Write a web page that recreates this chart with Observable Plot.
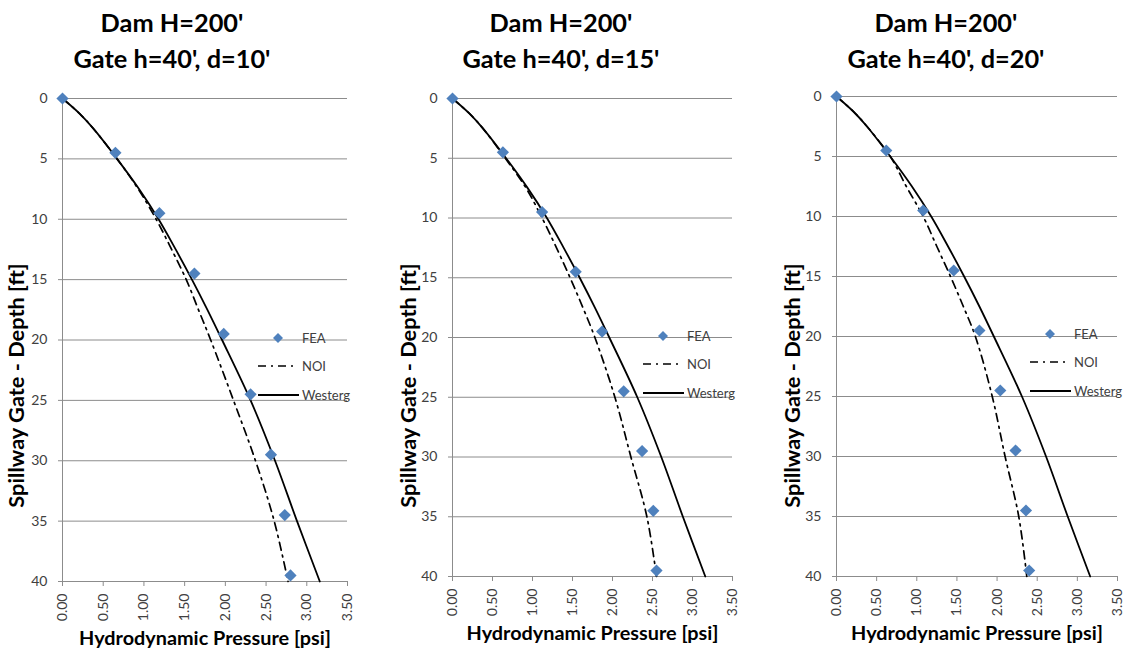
<!DOCTYPE html>
<html><head><meta charset="utf-8">
<script src="https://cdn.jsdelivr.net/npm/d3@7"></script>
<script src="https://cdn.jsdelivr.net/npm/@observablehq/plot@0.6"></script>
<style>
html,body{margin:0;padding:0;background:#fff;}
#root{position:relative;width:1125px;height:650px;overflow:hidden;font-family:Lato,sans-serif;}
.title{position:absolute;width:300px;text-align:center;font-weight:bold;font-size:24px;line-height:36px;color:#000;white-space:nowrap;}
.panel{position:absolute;top:80px;}
.legend{position:absolute;overflow:visible;}
svg g[aria-label="x-axis label"], svg g[aria-label="y-axis label"]{font-weight:bold;fill:#000;}
svg g[aria-label="x-axis tick"], svg g[aria-label="y-axis tick"]{stroke:#8c8c8c;}
svg g[aria-label="x-axis tick label"], svg g[aria-label="y-axis tick label"]{fill:#404040;}
</style></head><body><div id="root"></div>
<script>
// ---- data ----
const titleLine1 = "Dam H=200'";
const titleLine2 = ["Gate h=40', d=10'", "Gate h=40', d=15'", "Gate h=40', d=20'"];
const xLabel = "Hydrodynamic Pressure [psi]";
const yLabel = "Spillway Gate - Depth [ft]";
const seriesNames = ["FEA", "NOI", "Westerg"];
const xTicks = [0, 0.5, 1.0, 1.5, 2.0, 2.5, 3.0, 3.5];
const yTicks = [0, 5, 10, 15, 20, 25, 30, 35, 40];

const depthFEA = [0, 4.5, 9.5, 14.5, 19.5, 24.5, 29.5, 34.5, 39.5];
const feaD10 = [0, 0.65, 1.19, 1.62, 1.98, 2.31, 2.56, 2.73, 2.80];
const feaD15 = [0, 0.63, 1.12, 1.54, 1.87, 2.14, 2.37, 2.51, 2.55];
const feaD20 = [0, 0.62, 1.08, 1.46, 1.78, 2.04, 2.23, 2.36, 2.40];

const depthCurve = [0, 1.25, 2.5, 5, 7.5, 10, 12.5, 15, 17.5, 20, 25, 30, 35, 40];
const westerg = [0, 0.21, 0.38, 0.67, 0.94, 1.18, 1.39, 1.59, 1.78, 1.96, 2.31, 2.61, 2.88, 3.16];
const noiD10 = [0, 0.21, 0.38, 0.67, 0.93, 1.15, 1.34, 1.52, 1.67, 1.82, 2.10, 2.37, 2.60, 2.77];
const noiD15 = [0, 0.21, 0.38, 0.66, 0.92, 1.12, 1.30, 1.47, 1.63, 1.78, 2.03, 2.23, 2.43, 2.55];
const noiD20 = [0, 0.21, 0.38, 0.67, 0.87, 1.08, 1.25, 1.42, 1.58, 1.73, 1.94, 2.10, 2.27, 2.37];

// ---- layout ----
const panels = [
  {t2: titleLine2[0], fea: feaD10, noi: noiD10, left: 0,   width: 380, mL: 62, mR: 33, mT: 18, mB: 69, titleX: 172, yOff: 54, legX: 278,  legY: 338},
  {t2: titleLine2[1], fea: feaD15, noi: noiD15, left: 390, width: 380, mL: 62, mR: 38, mT: 18, mB: 74, titleX: 561, yOff: 52, legX: 663,  legY: 336},
  {t2: titleLine2[2], fea: feaD20, noi: noiD20, left: 775, width: 350, mL: 61, mR: 8,  mT: 16, mB: 74, titleX: 946, yOff: 52, legX: 1050, legY: 334}
];
const H = 570, TOP = 80;
const BLUE = "#4F81BD";
const NOI_DASH = "8,5,2,5";
const root = document.getElementById("root");

const ctx = document.createElement("canvas").getContext("2d");
function fitSize(text, weight, target) {
  ctx.font = `${weight} 100px Lato`;
  return 100 * target / ctx.measureText(text).width;
}
const titleSize = fitSize(titleLine2[0], "bold", 197);
const xLabelSize = fitSize(xLabel, "bold", 252);
const yLabelSize = fitSize(yLabel, "bold", 245);

panels.forEach(p => {
  const feaRows = depthFEA.map((d, i) => ({depth: d, p: p.fea[i]}));
  const westRows = depthCurve.map((d, i) => ({depth: d, p: westerg[i]}));
  const noiRows = depthCurve.map((d, i) => ({depth: d, p: p.noi[i]}));

  const svg = Plot.plot({
    width: p.width, height: H,
    marginLeft: p.mL, marginRight: p.mR, marginTop: p.mT, marginBottom: p.mB,
    style: {fontFamily: "Lato, sans-serif", fontSize: "14px", background: "transparent", overflow: "visible", color: "#404040"},
    x: {domain: [0, 3.5]},
    y: {domain: [0, 40], reverse: true},
    marks: [
      Plot.gridY(yTicks, {stroke: "#8c8c8c", strokeOpacity: 1}),
      Plot.ruleX([0], {stroke: "#8c8c8c"}),
      Plot.axisY(yTicks, {tickSize: 4, tickPadding: 11, fontSize: 14, label: yLabel, labelAnchor: "center", labelOffset: p.yOff, labelArrow: false}),
      Plot.axisX(xTicks, {tickSize: 5, tickPadding: 7, tickRotate: -90, fontSize: 14, tickFormat: d => d.toFixed(2), label: xLabel, labelAnchor: "center", labelOffset: 63, labelArrow: false}),
      Plot.line(noiRows, {x: "p", y: "depth", curve: "catmull-rom", stroke: "#000", strokeWidth: 1.7, strokeDasharray: NOI_DASH}),
      Plot.line(westRows, {x: "p", y: "depth", curve: "catmull-rom", stroke: "#000", strokeWidth: 1.8}),
      Plot.dot(feaRows, {x: "p", y: "depth", symbol: "diamond2", r: 5.5, fill: BLUE, stroke: "none"})
    ]
  });
  svg.classList.add("panel");
  svg.style.left = p.left + "px";
  svg.style.top = TOP + "px";
  svg.style.position = "absolute";
  root.appendChild(svg);

  // axis label fonts and y label placement (composed with Plot's own transform)
  const frameCenter = TOP + p.mT + (H - p.mT - p.mB) / 2;
  const yl = svg.querySelector('g[aria-label="y-axis label"]');
  if (yl) {
    yl.style.fontSize = yLabelSize + "px";
    const prev = yl.getAttribute("transform") || "";
    yl.setAttribute("transform", `translate(0,${385 - frameCenter}) ${prev}`);
  }
  const xl = svg.querySelector('g[aria-label="x-axis label"]');
  if (xl) xl.style.fontSize = xLabelSize + "px";

  // title
  const t = document.createElement("div");
  t.className = "title";
  t.style.left = (p.titleX - 150) + "px";
  t.style.top = "4px";
  t.style.fontSize = titleSize + "px";
  t.innerHTML = `${titleLine1}<br>${p.t2}`;
  root.appendChild(t);

  // legend
  const ns = "http://www.w3.org/2000/svg";
  const lg = document.createElementNS(ns, "svg");
  lg.setAttribute("class", "legend");
  lg.setAttribute("width", 100);
  lg.setAttribute("height", 80);
  lg.style.left = (p.legX - 20) + "px";
  lg.style.top = (p.legY - 10) + "px";
  lg.style.fontFamily = "Lato, sans-serif";
  lg.style.fontSize = "13px";
  lg.innerHTML = `
    <path d="M20,5 L25,10 L20,15 L15,10 Z" fill="${BLUE}"/>
    <text x="44" y="10" dy="0.35em" fill="#404040">${seriesNames[0]}</text>
    <line x1="0" x2="36" y1="38" y2="38" stroke="#000" stroke-width="1.7" stroke-dasharray="${NOI_DASH}"/>
    <text x="44" y="38" dy="0.35em" fill="#404040">${seriesNames[1]}</text>
    <line x1="0" x2="41" y1="67" y2="67" stroke="#000" stroke-width="1.8"/>
    <text x="44" y="67" dy="0.35em" fill="#404040">${seriesNames[2]}</text>`;
  root.appendChild(lg);
});
</script></body></html>
